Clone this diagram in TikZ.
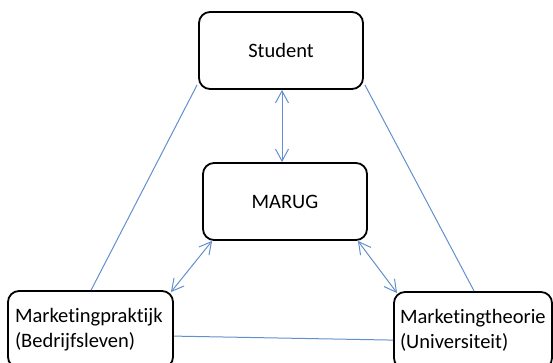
\documentclass[tikz,border=0pt]{standalone}
\usepackage{fontspec}
\setmainfont[Ligatures={NoCommon}]{Carlito}
\usetikzlibrary{arrows.meta,calc}
\definecolor{linkblue}{RGB}{98,144,206}
\tikzset{
  box/.style={draw=black, line width=1.8pt, rounded corners=11pt, fill=white,
    inner sep=0pt, font=\fontsize{20.5}{25}\selectfont},
  link/.style={draw=linkblue, line width=1pt},
  both/.style={link, {Straight Barb[length=12pt,width=13pt,line width=1pt]}-{Straight Barb[length=12pt,width=13pt,line width=1pt]}}
}
\begin{document}
\begin{tikzpicture}[x=1pt,y=-1pt]
\useasboundingbox (0,0) rectangle (553,363);
\node[box, minimum width=164pt, minimum height=77pt] (student) at (281,50.5) {Student};
\node[box, minimum width=164pt, minimum height=77pt] (marug) at (285,201.5) {MARUG};
\node[box, minimum width=165pt, minimum height=77pt, text width=151pt, align=left, inner xsep=7pt] (prak) at (90.5,329.5) {Marketingpraktijk\\(Bedrijfsleven)};
\node[box, minimum width=158pt, minimum height=77pt, text width=146pt, align=left, inner xsep=6pt] (theo) at (473,330.5) {Marketingtheorie\\(Universiteit)};
% plain links
\draw[link] ([xshift=-1pt,yshift=5pt]student.south west) -- ([xshift=84pt]prak.north west);
\draw[link] ([xshift=1pt,yshift=5pt]student.south east) -- ([xshift=81pt]theo.north west);
\draw[link] ([yshift=-46pt]prak.north east) -- ([yshift=-49pt]theo.north west);
% double arrows
\draw[both] (student.south -| 282,0) -- (marug.north -| 282,0);
\draw[both] ([xshift=10pt]marug.south west) -- ([xshift=-3pt,yshift=-2pt]prak.north east);
\draw[both] ([xshift=-10pt]marug.south east) -- ([xshift=4pt,yshift=-2pt]theo.north west);
\end{tikzpicture}
\end{document}
